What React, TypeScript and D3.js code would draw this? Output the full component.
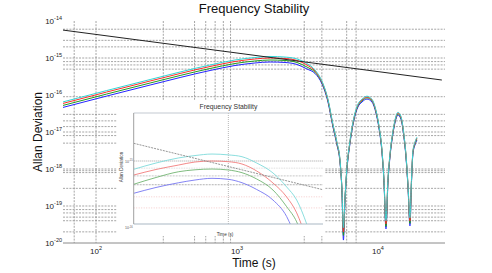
import React, { useEffect, useRef } from "react";
import * as d3 from "d3";

// averaging time (s) for the main plot
const mainTau: number[] = [
  58, 242, 644, 968, 1340, 1715, 2190, 2665, 3135, 3575, 4010, 4420, 4795,
  5120, 5375, 5555, 5690, 5830, 6025, 6325, 6760, 7210, 7705, 8355, 9065,
  9680, 10160, 10670, 11030, 11400, 11780, 12170, 12770, 13420, 13860, 14550,
  15280, 15800, 16330, 16870, 17300, 17700, 18300, 18900,
];
const cyanSigma: number[] = [
  6.47e-17, 2.62e-16, 6.47e-16, 8.83e-16, 1.03e-15, 1.1e-15, 1.06e-15, 9.4e-16,
  7.1e-16, 4.76e-16, 2.36e-16, 7.7e-17, 1.63e-17, 5.29e-18, 1.84e-18, 2.85e-19,
  2.6e-20, 1.52e-19, 1.11e-18, 5.64e-18, 2.51e-17, 5.64e-17, 7.7e-17, 9.27e-17,
  7.7e-17, 3.87e-17, 1.52e-17, 3.42e-18, 5.29e-19, 4.0e-20, 5.29e-19, 2.51e-18,
  1.05e-17, 2.67e-17, 3.42e-17, 2.67e-17, 8.72e-18, 2.51e-18, 3.87e-19, 4.8e-20,
  5.29e-19, 3.02e-18, 5.29e-18, 7.22e-18,
];
const redSigma: number[] = [
  5.89e-17, 2.39e-16, 5.89e-16, 8.04e-16, 9.4e-16, 1.0e-15, 9.69e-16, 8.56e-16,
  6.47e-16, 4.45e-16, 2.25e-16, 7.33e-17, 1.55e-17, 5.04e-18, 1.75e-18, 2.71e-19,
  1.98e-20, 1.45e-19, 1.06e-18, 5.37e-18, 2.39e-17, 5.37e-17, 7.33e-17, 8.83e-17,
  7.33e-17, 3.69e-17, 1.45e-17, 3.26e-18, 5.04e-19, 3.26e-20, 5.04e-19, 2.39e-18,
  1.0e-17, 2.54e-17, 3.26e-17, 2.54e-17, 8.3e-18, 2.39e-18, 3.69e-19, 3.93e-20,
  5.04e-19, 2.88e-18, 5.04e-18, 6.88e-18,
];
const greenSigma: number[] = [
  5.2e-17, 2.11e-16, 5.2e-16, 7.1e-16, 8.3e-16, 8.83e-16, 8.56e-16, 7.56e-16,
  5.71e-16, 4.14e-16, 2.14e-16, 6.96e-17, 1.47e-17, 4.79e-18, 1.66e-18, 2.57e-19,
  1.6e-20, 1.38e-19, 1.01e-18, 5.1e-18, 2.27e-17, 5.1e-17, 6.96e-17, 8.39e-17,
  6.96e-17, 3.51e-17, 1.38e-17, 3.1e-18, 4.79e-19, 2.8e-20, 4.79e-19, 2.27e-18,
  9.5e-18, 2.41e-17, 3.1e-17, 2.41e-17, 7.89e-18, 2.27e-18, 3.51e-19, 3.4e-20,
  4.79e-19, 2.74e-18, 4.79e-18, 6.54e-18,
];
const blueSigma: number[] = [
  4.59e-17, 1.86e-16, 4.59e-16, 6.27e-16, 7.33e-16, 7.8e-16, 7.56e-16, 6.68e-16,
  5.05e-16, 3.83e-16, 1.98e-16, 6.45e-17, 1.36e-17, 4.44e-18, 1.54e-18, 2.38e-19,
  1.2e-20, 1.28e-19, 9.33e-19, 4.73e-18, 2.1e-17, 4.73e-17, 6.45e-17, 7.77e-17,
  6.45e-17, 3.25e-17, 1.28e-17, 2.87e-18, 4.44e-19, 2.4e-20, 4.44e-19, 2.1e-18,
  8.8e-18, 2.24e-17, 2.87e-17, 2.24e-17, 7.3e-18, 2.1e-18, 3.25e-19, 2.9e-20,
  4.44e-19, 2.53e-18, 4.44e-18, 6.05e-18,
];
// reference slope line
const refTau: number[] = [58, 28400];
const refSigma: number[] = [5.7e-15, 2.54e-16];

const xTicks: number[] = [100, 1000, 10000];
const xTickExp: string[] = ["2", "3", "4"];
const yTicks: number[] = [1e-14, 1e-15, 1e-16, 1e-17, 1e-18, 1e-19, 1e-20];
const yTickExp: string[] = ["-14", "-15", "-16", "-17", "-18", "-19", "-20"];
const gridTau: number[] = [70, 100, 300, 500, 600, 700, 800, 900, 3000, 4000, 6000, 7000];
const gridSigma: number[] = [
  6e-15, 3e-15, 2e-15, 1e-15, 8e-16, 6.5e-16, 5e-16, 9e-17, 3e-17, 2e-17,
  1.4e-17, 1e-17, 8e-18, 5e-18, 1e-18, 9e-19, 8e-19, 3e-19, 1e-19, 8e-20,
  6.5e-20, 5e-20, 4e-20, 2e-20,
];

// inset plot
const insetTau: number[] = [100, 172, 299, 444, 672, 1000, 1394, 1993, 2963, 4135, 5274, 6727, 8230];
const insetCyan: number[] = [7.38e-16, 9.29e-16, 1.12e-15, 1.22e-15, 1.29e-15, 1.25e-15, 1.17e-15, 9.29e-16, 6.45e-16, 3.87e-16, 2.4e-16, 1.0e-16, 3.87e-17];
const insetRed: number[] = [5.99e-16, 7.33e-16, 8.64e-16, 9.64e-16, 1.0e-15, 9.75e-16, 8.96e-16, 6.94e-16, 4.47e-16, 2.68e-16, 1.5e-16, 5.57e-17, 2.0e-17];
const insetGreen: number[] = [4.27e-16, 5.47e-16, 6.76e-16, 7.25e-16, 7.46e-16, 7.2e-16, 6.52e-16, 5.18e-16, 3.46e-16, 1.88e-16, 1.08e-16, 3.87e-17, 1.5e-17];
const insetBlue: number[] = [3.07e-16, 3.8e-16, 4.52e-16, 4.99e-16, 5.31e-16, 5.12e-16, 4.52e-16, 3.53e-16, 2.4e-16, 1.31e-16, 5.57e-17, 2.0e-17, 1.0e-17];
const insetRefTau: number[] = [100, 10000];
const insetRefSigma: number[] = [1.91e-15, 3.5e-16];
const insetGridTau: number[] = [1000];
const insetGridSigma: number[] = [1e-15, 7.7e-16, 5.8e-16, 4.2e-16, 2.7e-16, 1.8e-16];

const FONT = "'Liberation Sans', Arial, Helvetica, sans-serif";

const App = () => {
  const ref = useRef<SVGSVGElement>(null);

  useEffect(() => {
    const svg = d3.select(ref.current);
    svg.selectAll("*").remove();
    svg.attr("width", 492).attr("height", 273).style("font-family", FONT);
    svg.append("rect").attr("width", 492).attr("height", 273).attr("fill", "#fff");

    const left = 63, right = 445, top = 21, bottom = 243;
    const x = d3.scaleLog().domain([58.3, 29900]).range([left, right]);
    const y = d3.scaleLog().domain([1e-20, 1e-14]).range([bottom, top]);

    svg.append("clipPath").attr("id", "mainClip")
      .append("rect").attr("x", left).attr("y", top)
      .attr("width", right - left).attr("height", bottom - top);

    const grid = svg.append("g").attr("stroke", "#808080")
      .attr("stroke-width", 0.7).attr("stroke-dasharray", "2,1.2");
    grid.selectAll("line.v").data(gridTau).enter().append("line")
      .attr("x1", (d) => x(d)).attr("x2", (d) => x(d))
      .attr("y1", top).attr("y2", bottom);
    grid.selectAll("line.h").data(gridSigma).enter().append("line")
      .attr("x1", left).attr("x2", right)
      .attr("y1", (d) => y(d)).attr("y2", (d) => y(d));

    svg.append("line").attr("x1", left).attr("x2", right)
      .attr("y1", bottom).attr("y2", bottom)
      .attr("stroke", "#8a8a8a").attr("stroke-width", 1);

    const line = d3.line<[number, number]>()
      .x((d) => x(d[0])).y((d) => y(d[1]))
      .curve(d3.curveMonotoneX);

    const series = [
      { v: blueSigma, c: "#2424ff" },
      { v: greenSigma, c: "#1f9a1f" },
      { v: redSigma, c: "#ff2a2a" },
      { v: cyanSigma, c: "#33d6d6" },
    ];
    const curves = svg.append("g").attr("clip-path", "url(#mainClip)");
    series.forEach((s) => {
      curves.append("path")
        .attr("d", line(mainTau.map((t, i) => [t, s.v[i]] as [number, number])))
        .attr("fill", "none").attr("stroke", s.c).attr("stroke-width", 1);
    });
    curves.append("path")
      .attr("d", line(refTau.map((t, i) => [t, refSigma[i]] as [number, number])))
      .attr("fill", "none").attr("stroke", "#222").attr("stroke-width", 1);

    // tick labels
    const xl = svg.append("g").attr("fill", "#222").attr("font-size", 8)
      .attr("text-anchor", "middle");
    xTicks.forEach((t, i) => {
      const tx = xl.append("text").attr("x", x(t)).attr("y", 254);
      tx.append("tspan").text("10");
      tx.append("tspan").attr("dy", -4).attr("font-size", 5.5).text(xTickExp[i]);
    });
    const yl = svg.append("g").attr("fill", "#222").attr("font-size", 8)
      .attr("text-anchor", "end");
    yTicks.forEach((t, i) => {
      const tx = yl.append("text").attr("x", 62).attr("y", y(t) + 3);
      tx.append("tspan").text("10");
      tx.append("tspan").attr("dy", -4).attr("font-size", 5.5).text(yTickExp[i]);
    });

    svg.append("text").attr("x", 254).attr("y", 13).attr("text-anchor", "middle")
      .attr("font-size", 13).attr("fill", "#111").text("Frequency Stability");
    svg.append("text").attr("x", 254).attr("y", 267).attr("text-anchor", "middle")
      .attr("font-size", 12).attr("fill", "#111").text("Time (s)");
    svg.append("text").attr("transform", "translate(42,132) rotate(-90)")
      .attr("text-anchor", "middle").attr("font-size", 12).attr("fill", "#111")
      .text("Allan Deviation");

    // inset figure
    const ins = svg.append("g");
    ins.append("rect").attr("x", 117).attr("y", 101)
      .attr("width", 208).attr("height", 135).attr("fill", "#fff");
    const iL = 133.7, iR = 323, iT = 113, iB = 224;
    const ix = d3.scaleLog().domain([100, 10000]).range([iL, iR]);
    const iy = d3.scaleLog().domain([1e-16, 5.78e-15]).range([iB, iT]);
    ins.append("clipPath").attr("id", "insetClip")
      .append("rect").attr("x", iL).attr("y", iT)
      .attr("width", iR - iL).attr("height", iB - iT);

    const gridStyles = [
      { c: "#a0a0a0", w: 1.2, d: "1,1" },
      { c: "#d8d8d8", w: 0.8, d: "1.5,1" },
      { c: "#b0b0b0", w: 0.7, d: "2,1" },
      { c: "#909090", w: 0.7, d: "2,1" },
      { c: "#f0b4b4", w: 0.7, d: "1,1.5" },
      { c: "#f0b4b4", w: 0.7, d: "1,1.5" },
    ];
    insetGridSigma.forEach((s, i) => {
      ins.append("line").attr("x1", iL).attr("x2", iR)
        .attr("y1", iy(s)).attr("y2", iy(s))
        .attr("stroke", gridStyles[i].c).attr("stroke-width", gridStyles[i].w)
        .attr("stroke-dasharray", gridStyles[i].d);
    });
    insetGridTau.forEach((t) => {
      ins.append("line").attr("x1", ix(t)).attr("x2", ix(t))
        .attr("y1", iT).attr("y2", iB)
        .attr("stroke", "#b8b8b8").attr("stroke-width", 1)
        .attr("stroke-dasharray", "1,1");
    });

    const iline = d3.line<[number, number]>()
      .x((d) => ix(d[0])).y((d) => iy(d[1]))
      .curve(d3.curveMonotoneX);
    const iseries = [
      { v: insetBlue, c: "#7676f2" },
      { v: insetGreen, c: "#72b472" },
      { v: insetRed, c: "#f27c7c" },
      { v: insetCyan, c: "#7edada" },
    ];
    const ic = ins.append("g").attr("clip-path", "url(#insetClip)");
    iseries.forEach((s) => {
      ic.append("path")
        .attr("d", iline(insetTau.map((t, i) => [t, s.v[i]] as [number, number])))
        .attr("fill", "none").attr("stroke", s.c).attr("stroke-width", 0.9);
    });
    ic.append("path")
      .attr("d", iline(insetRefTau.map((t, i) => [t, insetRefSigma[i]] as [number, number])))
      .attr("fill", "none").attr("stroke", "#8a8a8a").attr("stroke-width", 0.9)
      .attr("stroke-dasharray", "2,1");

    ins.append("line").attr("x1", iL).attr("x2", iR).attr("y1", iT).attr("y2", iT)
      .attr("stroke", "#c4cad2").attr("stroke-width", 1.2);
    ins.append("line").attr("x1", iL).attr("x2", iR).attr("y1", iB).attr("y2", iB)
      .attr("stroke", "#aab8c4").attr("stroke-width", 1.2);
    ins.append("line").attr("x1", iL).attr("x2", iL).attr("y1", iT).attr("y2", iB)
      .attr("stroke", "#a0a0a0").attr("stroke-width", 1);

    ins.append("text").attr("x", 228.5).attr("y", 109).attr("text-anchor", "middle")
      .attr("font-size", 6.8).attr("fill", "#333").text("Frequency Stability");
    ins.append("text").attr("x", 225).attr("y", 235.5).attr("text-anchor", "middle")
      .attr("font-size", 4.6).attr("fill", "#333").text("Time (s)");
    ins.append("text").attr("transform", "translate(122.5,167) rotate(-90)")
      .attr("text-anchor", "middle").attr("font-size", 4.6).attr("fill", "#444")
      .text("Allan Deviation");
    [1e-15, 1e-16].forEach((s, i) => {
      const tx = ins.append("text").attr("x", iL - 1).attr("y", iy(s) + (i ? 5 : 1.5))
        .attr("text-anchor", "end").attr("font-size", 3.6).attr("fill", "#555");
      tx.append("tspan").text("10");
      tx.append("tspan").attr("dy", -1.5).attr("font-size", 2.6).text(i ? "-16" : "-15");
    });
  }, []);

  return (
    <div style={{ position: "absolute", left: 0, top: 0 }}>
      <svg ref={ref} style={{ display: "block" }} />
    </div>
  );
};

export default App;
